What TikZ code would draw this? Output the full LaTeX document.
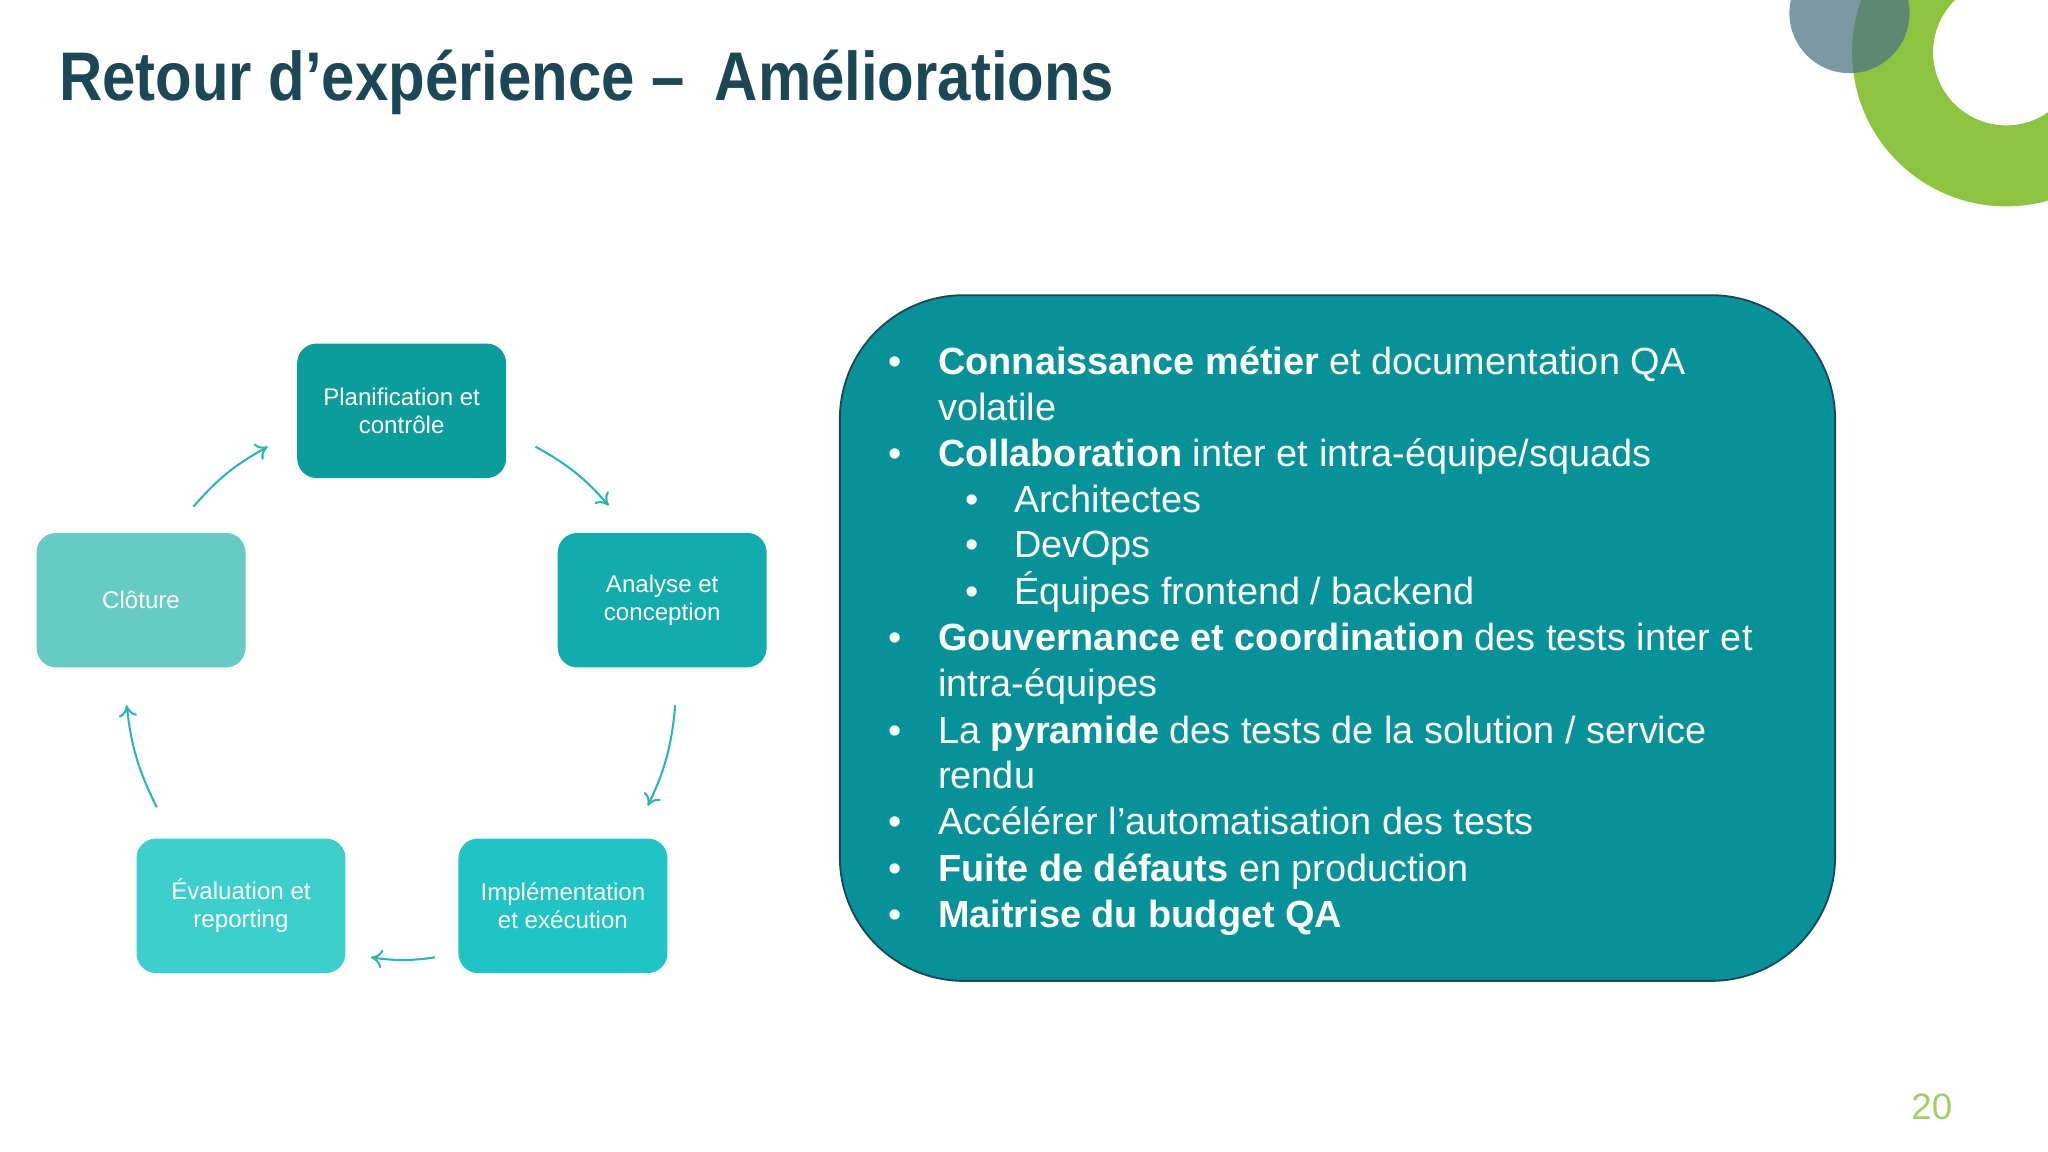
\documentclass[tikz,border=0pt]{standalone}
\usepackage{fontspec}
\setmainfont{Liberation Sans}
\usetikzlibrary{arrows.meta}
\definecolor{ttl}{HTML}{1B4756}
\definecolor{bigbox}{HTML}{07929A}
\definecolor{cA}{HTML}{0B9C9C}
\definecolor{cB}{HTML}{13ACAC}
\definecolor{cC}{HTML}{20C4C4}
\definecolor{cD}{HTML}{3CCFCC}
\definecolor{cE}{HTML}{66CBC3}
\definecolor{grn}{HTML}{8CC43F}
\definecolor{gry}{HTML}{4F7585}
\definecolor{arr}{HTML}{2AB5B0}
\tikzset{
  stage/.style={draw=none,rounded corners=0.3cm,minimum width=3.2cm,minimum height=2.06cm,text=white,align=center,font=\fontsize{10.5}{12}\selectfont},
  cyc/.style={arr,line width=0.9pt,-{To[length=5pt,width=8pt]}},
  btxt/.style={anchor=base west,text=white,inner sep=0pt,font=\fontsize{16.5}{20}\selectfont},
}
\begin{document}
\begin{tikzpicture}[x=0.02cm,y=-0.02cm]
\useasboundingbox (0,0) rectangle (1568,882);
% decoration
\begin{scope}
\clip (0,0) rectangle (1568,882);
\fill[grn,even odd rule] (1536,40) circle (118) (1536,40) circle (56);
\fill[gry,opacity=0.75] (1416,10) circle (46);
\end{scope}
\node[anchor=base west,text=ttl,font=\bfseries\fontsize{30}{34}\selectfont,inner sep=0pt,xscale=0.87] (title) at (45,77) {Retour d’expérience –\hspace{0.5em}Améliorations};
% stages
\node[stage,fill=cA] (p) at (307.5,314.5) {Planification et\\contrôle};
\node[stage,fill=cB] (a) at (507,459.5) {Analyse et\\conception};
\node[stage,fill=cC] (i) at (431,693.5) {Implémentation\\et exécution};
\node[stage,fill=cD] (e) at (184.5,693.5) {Évaluation et\\reporting};
\node[stage,fill=cE] (c) at (108,459.5) {Clôture};
\coordinate (a1s) at (410,342); \coordinate (a1e) at (466,387);
\coordinate (a2s) at (517,540); \coordinate (a2e) at (496,617);
\coordinate (a3s) at (333,733); \coordinate (a3e) at (284,733);
\coordinate (a4s) at (120,618); \coordinate (a4e) at (97,540);
\coordinate (a5s) at (148,388); \coordinate (a5e) at (205,342);
\draw[cyc] (a1s) to[bend left=10] (a1e);
\draw[cyc] (a2s) to[bend left=10] (a2e);
\draw[cyc] (a3s) to[bend left=8] (a3e);
\draw[cyc] (a4s) to[bend left=10] (a4e);
\draw[cyc] (a5s) to[bend left=10] (a5e);
% big box
\draw[fill=bigbox,draw=ttl,line width=0.8pt,rounded corners=1.9cm] (643,226) rectangle (1405,751);
\foreach \y in {287,357,498,569,639,675,710} \node[btxt] at (680,\y) {•};
\foreach \y in {392,427,463} \node[btxt] at (739,\y) {•};
\node[btxt] (l1) at (718,287) {\textbf{Connaissance métier} et documentation QA};
\node[btxt] (l2) at (718,322) {volatile};
\node[btxt] (l3) at (718,357) {\textbf{Collaboration} inter et intra-équipe/squads};
\node[btxt] (l4) at (776,392) {Architectes};
\node[btxt] (l5) at (776,427) {DevOps};
\node[btxt] (l6) at (776,463) {Équipes frontend / backend};
\node[btxt] (l7) at (718,498) {\textbf{Gouvernance et coordination} des tests inter et};
\node[btxt] (l8) at (718,533) {intra-équipes};
\node[btxt] (l9) at (718,569) {La \textbf{pyramide} des tests de la solution / service};
\node[btxt] (l10) at (718,604) {rendu};
\node[btxt] (l11) at (718,639) {Accélérer l’automatisation des tests};
\node[btxt] (l12) at (718,675) {\textbf{Fuite de défauts} en production};
\node[btxt] (l13) at (718,710) {\textbf{Maitrise du budget QA}};
\node[anchor=base east,text=grn!80!white,inner sep=0pt,font=\fontsize{16}{18}\selectfont] (pg) at (1495,857) {20};
\end{tikzpicture}
\end{document}
